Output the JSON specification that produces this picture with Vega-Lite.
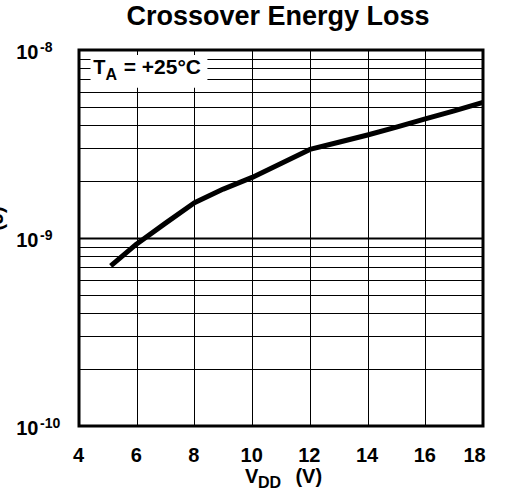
{
  "$schema": "https://vega.github.io/schema/vega-lite/v6.json",
  "width": 404,
  "height": 376,
  "autosize": {"type": "none"},
  "padding": {"left": 79, "top": 50, "right": 22, "bottom": 67},
  "background": "white",
  "title": {
    "text": "Crossover Energy Loss",
    "font": "Liberation Sans",
    "fontSize": 27,
    "fontWeight": "bold",
    "color": "black",
    "anchor": "middle",
    "frame": "group",
    "baseline": "alphabetic",
    "offset": 15,
    "dx": -3,
    "dy": 25.5
  },
  "config": {
    "view": {"stroke": "black", "strokeWidth": 3},
    "font": "Liberation Sans"
  },
  "data": {
    "values": [
      {"vdd": 5.1, "energy": 7.1e-10},
      {"vdd": 6, "energy": 9.3e-10},
      {"vdd": 7, "energy": 1.2e-9},
      {"vdd": 8, "energy": 1.54e-9},
      {"vdd": 9, "energy": 1.82e-9},
      {"vdd": 10, "energy": 2.1e-9},
      {"vdd": 11, "energy": 2.49e-9},
      {"vdd": 12, "energy": 2.96e-9},
      {"vdd": 13, "energy": 3.23e-9},
      {"vdd": 14, "energy": 3.53e-9},
      {"vdd": 15, "energy": 3.89e-9},
      {"vdd": 16, "energy": 4.3e-9},
      {"vdd": 17, "energy": 4.75e-9},
      {"vdd": 18, "energy": 5.27e-9}
    ]
  },
  "layer": [
    {
      "mark": {
        "type": "line",
        "color": "black",
        "strokeWidth": 5,
        "strokeCap": "butt",
        "strokeJoin": "round"
      },
      "encoding": {
        "x": {
          "field": "vdd",
          "type": "quantitative",
          "scale": {"domain": [4, 18], "nice": false, "zero": false},
          "axis": {
            "title": null,
            "values": [4, 6, 8, 10, 12, 14, 16, 18],
            "grid": true,
            "gridColor": "black",
            "gridWidth": 1,
            "domain": false,
            "ticks": false,
            "labelFont": "Liberation Sans",
            "labelFontSize": 20,
            "labelFontWeight": "bold",
            "labelColor": "black",
            "labelPadding": 19,
            "labelFlush": false,
            "labelAlign": "center",
            "labelBaseline": "top",
            "labelOffset": {"condition": {"test": "datum.value == 18", "value": -9}, "value": -1}
          }
        },
        "y": {
          "field": "energy",
          "type": "quantitative",
          "scale": {"type": "log", "domain": [1e-10, 1e-8], "nice": false},
          "axis": {
            "title": "(J)",
            "titleFont": "Liberation Sans",
            "titleFontSize": 20,
            "titleFontWeight": "bold",
            "titleColor": "black",
            "titleX": -77,
            "titleY": 168,
            "titleAngle": 270,
            "titleBaseline": "alphabetic",
            "titleAlign": "center",
            "values": [1e-10, 2e-10, 3e-10, 4e-10, 5e-10, 6e-10, 7e-10, 8e-10, 9e-10, 1e-9, 2e-9, 3e-9, 4e-9, 5e-9, 6e-9, 7e-9, 8e-9, 9e-9, 1e-8],
            "labelExpr": "datum.value == 1e-8 || datum.value == 1e-9 || datum.value == 1e-10 ? '10' : ''",
            "grid": true,
            "gridColor": "black",
            "gridWidth": {"condition": {"test": "datum.value == 1e-9", "value": 2}, "value": 1},
            "domain": false,
            "ticks": false,
            "labelFont": "Liberation Sans",
            "labelFontSize": 20,
            "labelFontWeight": "bold",
            "labelColor": "black",
            "labelPadding": 41,
            "labelAlign": "right",
            "labelBaseline": "middle",
            "labelOffset": 2,
            "labelOverlap": false
          }
        }
      }
    },
    {
      "data": {"values": [{}]},
      "mark": {"type": "rect", "fill": "white"},
      "encoding": {
        "x": {"datum": 4.4, "type": "quantitative"},
        "x2": {"datum": 8.45},
        "y": {"datum": 9.4e-9, "type": "quantitative"},
        "y2": {"datum": 6.3e-9}
      }
    },
    {
      "data": {"values": [{"energy": 1e-8, "exp": "-8"}, {"energy": 1e-9, "exp": "-9"}, {"energy": 1e-10, "exp": "-10"}]},
      "mark": {"type": "text", "align": "left", "baseline": "alphabetic", "dx": -39, "dy": 2, "fontSize": 14, "fontWeight": "bold", "font": "Liberation Sans", "color": "black"},
      "encoding": {
        "x": {"datum": 4, "type": "quantitative"},
        "y": {"field": "energy", "type": "quantitative"},
        "text": {"field": "exp"}
      }
    },
    {
      "data": {"values": [{}]},
      "mark": {"type": "text", "text": "T", "align": "left", "baseline": "alphabetic", "dy": 24, "fontSize": 20, "fontWeight": "bold", "font": "Liberation Sans", "color": "black"},
      "encoding": {
        "x": {"datum": 4.49, "type": "quantitative"},
        "y": {"datum": 1e-8, "type": "quantitative"}
      }
    },
    {
      "data": {"values": [{}]},
      "mark": {"type": "text", "text": "A", "align": "left", "baseline": "alphabetic", "dy": 30, "fontSize": 16, "fontWeight": "bold", "font": "Liberation Sans", "color": "black"},
      "encoding": {
        "x": {"datum": 4.92, "type": "quantitative"},
        "y": {"datum": 1e-8, "type": "quantitative"}
      }
    },
    {
      "data": {"values": [{}]},
      "mark": {"type": "text", "text": "= +25°C", "align": "left", "baseline": "alphabetic", "dy": 24, "fontSize": 21, "fontWeight": "bold", "font": "Liberation Sans", "color": "black"},
      "encoding": {
        "x": {"datum": 5.55, "type": "quantitative"},
        "y": {"datum": 1e-8, "type": "quantitative"}
      }
    },
    {
      "data": {"values": [{}]},
      "mark": {"type": "text", "text": "V", "align": "left", "baseline": "alphabetic", "dy": 57, "fontSize": 20, "fontWeight": "bold", "font": "Liberation Sans", "color": "black"},
      "encoding": {
        "x": {"datum": 9.75, "type": "quantitative"},
        "y": {"datum": 1e-10, "type": "quantitative"}
      }
    },
    {
      "data": {"values": [{}]},
      "mark": {"type": "text", "text": "DD", "align": "left", "baseline": "alphabetic", "dy": 62, "fontSize": 16, "fontWeight": "bold", "font": "Liberation Sans", "color": "black"},
      "encoding": {
        "x": {"datum": 10.2, "type": "quantitative"},
        "y": {"datum": 1e-10, "type": "quantitative"}
      }
    },
    {
      "data": {"values": [{}]},
      "mark": {"type": "text", "text": "(V)", "align": "left", "baseline": "alphabetic", "dy": 57, "fontSize": 20, "fontWeight": "bold", "font": "Liberation Sans", "color": "black"},
      "encoding": {
        "x": {"datum": 11.5, "type": "quantitative"},
        "y": {"datum": 1e-10, "type": "quantitative"}
      }
    }
  ]
}
